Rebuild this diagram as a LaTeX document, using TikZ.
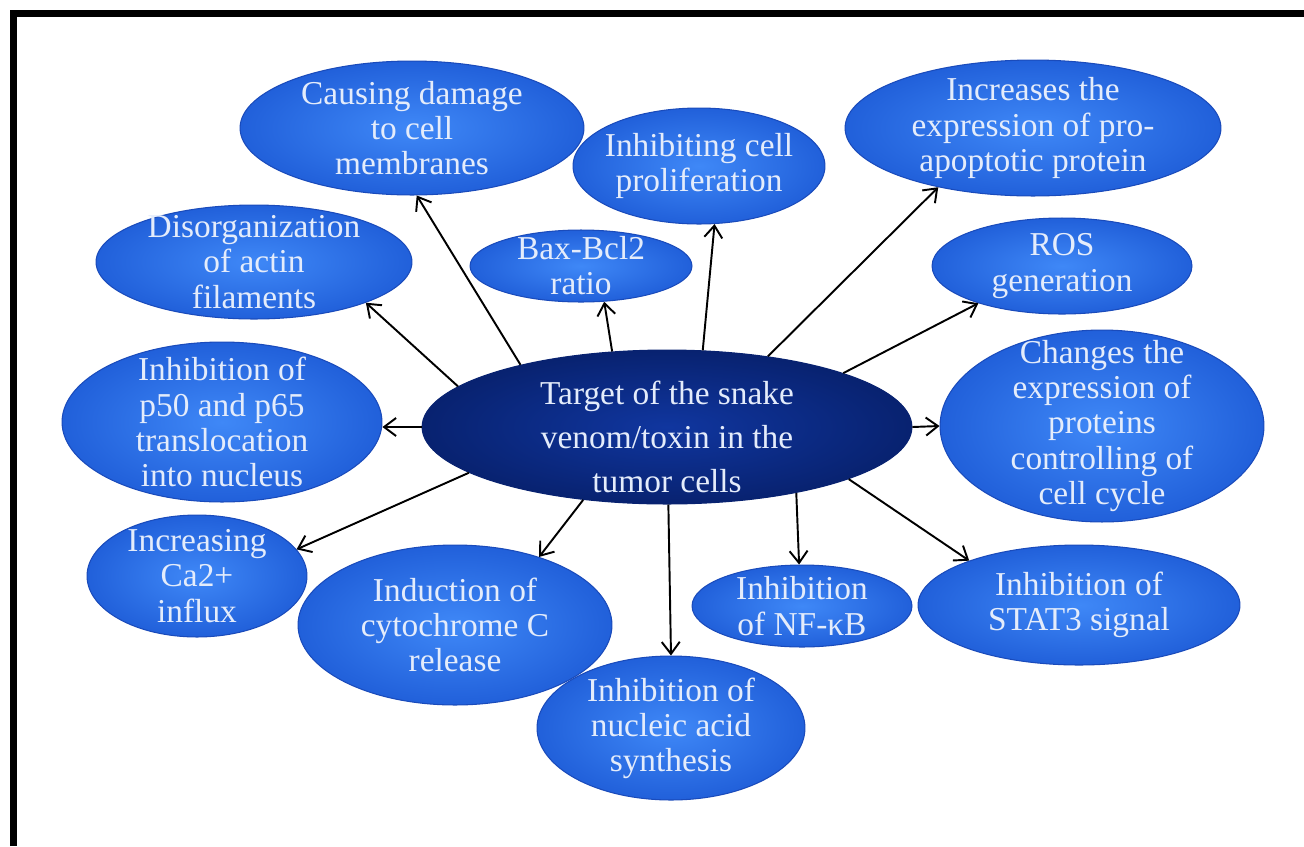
\documentclass[tikz,border=0pt]{standalone}
\usepackage{fontspec}
\setmainfont{Liberation Serif}
\usetikzlibrary{shapes.geometric,arrows.meta}
\definecolor{leafin}{HTML}{3F88F7}
\definecolor{leafout}{HTML}{2160DA}
\definecolor{leafrim}{HTML}{1A4BBB}
\definecolor{hubin}{HTML}{10369F}
\definecolor{hubout}{HTML}{082270}
\definecolor{paletext}{HTML}{E4ECFB}
\tikzset{>={Straight Barb[length=2.4mm,width=3.6mm]}}

\begin{document}
\begin{tikzpicture}[x=0.02cm,y=-0.02cm,
  blob/.style 2 args={ellipse,draw=leafrim,line width=0.6pt,inner color=leafin,outer color=leafout,
    minimum width=#1*0.04cm,minimum height=#2*0.04cm,inner sep=0pt},
  say/.style={text=paletext,align=center,font=\fontsize{19}{20}\selectfont},
  hit/.style={->,line width=1.1pt}]
  \useasboundingbox (0,0) rectangle (1304,846);
  \draw[line width=0.14cm] (13.5,846) |- (1304,13.5);

  % the centre
  \node[blob={245}{77},draw=hubout,inner color=hubin,outer color=hubout,
    label={[say,yshift=-0.2cm,font=\fontsize{19}{25}\selectfont]center:Target of the snake\\venom/toxin in the\\tumor cells}] (hub) at (667,427) {};

  % the effects round it
  \node[blob={172}{67},label={[say]center:Causing damage\\to cell\\membranes}] (damage) at (412,128) {};
  \node[blob={126}{58},label={[say]center:Inhibiting cell\\proliferation}] (prolif) at (699,166) {};
  \node[blob={188}{68},label={[say]center:Increases the\\expression of pro-\\apoptotic protein}] (proapop) at (1033,128) {};
  \node[blob={158}{57},label={[say]center:Disorganization\\of actin\\filaments}] (actin) at (254,262) {};
  \node[blob={111}{36},label={[say]center:Bax-Bcl2\\ratio}] (bax) at (581,266) {};
  \node[blob={130}{48},label={[say]center:ROS\\generation}] (ros) at (1062,266) {};
  \node[blob={160}{80},label={[say]center:Inhibition of\\p50 and p65\\translocation\\into nucleus}] (p50) at (222,422) {};
  \node[blob={162}{96},label={[say]center:Changes the\\expression of\\proteins\\controlling of\\cell cycle}] (cycle) at (1102,426) {};
  \node[blob={110}{61},label={[say]center:Increasing\\Ca2+\\influx}] (calcium) at (197,576) {};
  \node[blob={157}{80},label={[say]center:Induction of\\cytochrome C\\release}] (cytoc) at (455,625) {};
  \node[blob={134}{72},label={[say]center:Inhibition of\\nucleic acid\\synthesis}] (nucleic) at (671,728) {};
  \node[blob={110}{41},label={[say]center:Inhibition\\of NF-κB}] (nfkb) at (802,606) {};
  \node[blob={161}{60},label={[say]center:Inhibition of\\STAT3 signal}] (stat3) at (1079,605) {};

  \foreach \a/\t/\b in {157/damage/-86, 169/actin/-20, 126/bax/-57, 65/prolif/-75,
      35/proapop/-148, 17/ros/-156, 0/cycle/180, -167/calcium/15,
      -139/cytoc/39, -89/nucleic/90, -27/nfkb/94, -16/stat3/158}
    \draw[hit] (hub.\a) -- (\t.\b);
  \draw[hit] (hub.west) -- (hub.west -| p50.east);
\end{tikzpicture}
\end{document}
